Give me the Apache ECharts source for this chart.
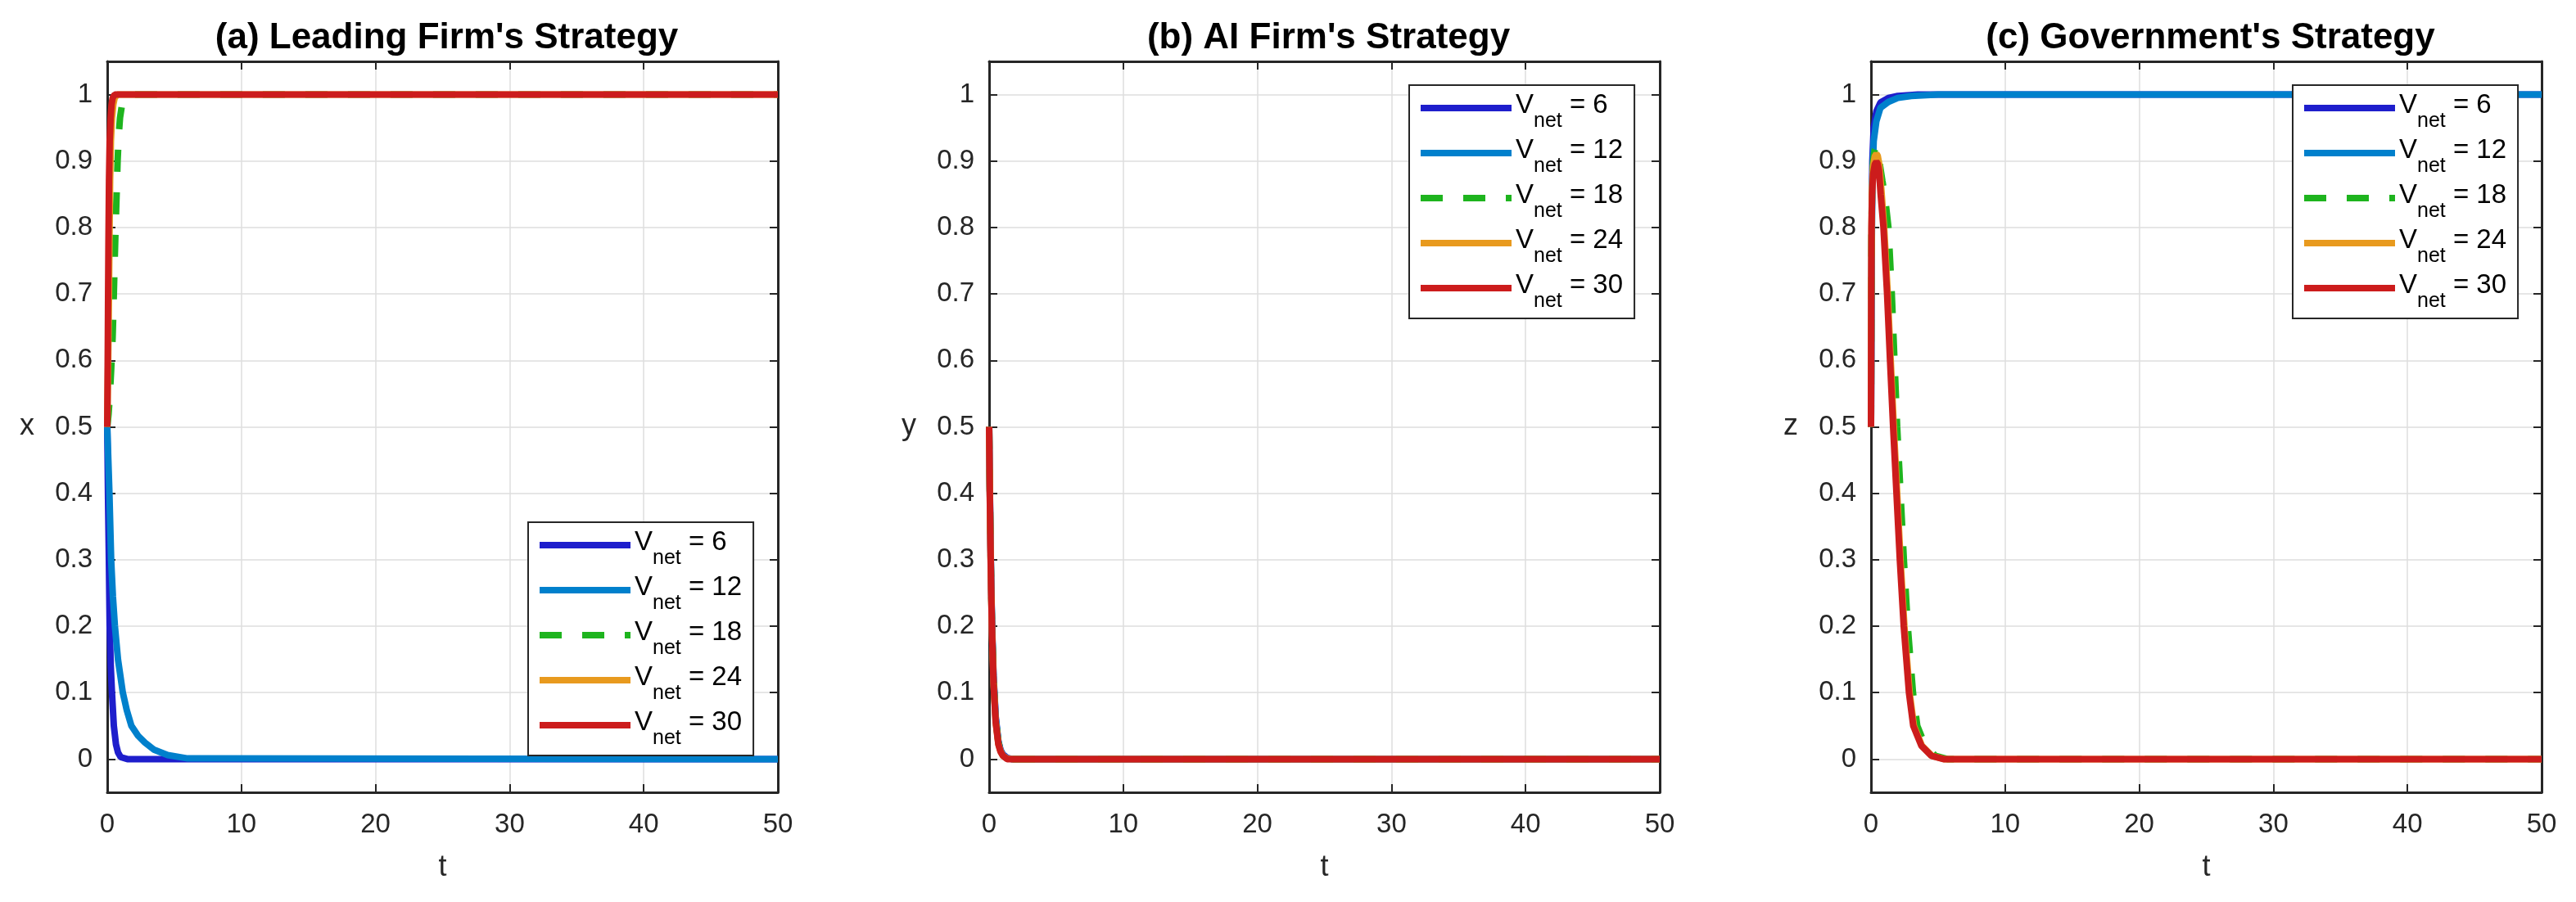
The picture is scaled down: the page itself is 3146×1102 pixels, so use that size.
<!DOCTYPE html>
<html>
<head>
<meta charset="utf-8">
<title>Strategy evolution</title>
<script src="https://cdn.jsdelivr.net/npm/echarts@6/dist/echarts.min.js"></script>
<style>
  html, body { margin: 0; padding: 0; background: #fff; }
  #chart { width: 3146px; height: 1102px; }
</style>
</head>
<body>
<div id="chart"></div>
<script>
// legend values of V_net
const vnetValues = ["6", "12", "18", "24", "30"];
const panelTitles = ["(a) Leading Firm's Strategy", "(b) AI Firm's Strategy", "(c) Government's Strategy"];
const yNames = ["x", "y", "z"];
const xTicks = [0, 10, 20, 30, 40, 50];
const yTicks = [0, 0.1, 0.2, 0.3, 0.4, 0.5, 0.6, 0.7, 0.8, 0.9, 1];

// (a) leading firm, x(t)
const tA6 = [0, 0.06, 0.12, 0.18, 0.26, 0.35, 0.49, 0.65, 0.8, 1.0, 1.5, 50];
const a6 = [0.5, 0.39, 0.3, 0.2, 0.14, 0.1, 0.05, 0.022, 0.01, 0.003, 0, 0];
const tA12 = [0, 0.08, 0.16, 0.29, 0.42, 0.57, 0.8, 1.16, 1.45, 1.8, 2.3, 2.8, 3.5, 4.5, 6, 50];
const a12 = [0.5, 0.45, 0.4, 0.3, 0.245, 0.2, 0.15, 0.1, 0.074, 0.05, 0.035, 0.025, 0.014, 0.006, 0.001, 0];
const tA18 = [0, 0.1, 0.2, 0.3, 0.4, 0.47, 0.54, 0.6, 0.69, 0.77, 0.86, 0.95, 1.1, 1.4, 2, 50];
const a18 = [0.5, 0.52, 0.55, 0.59, 0.635, 0.685, 0.74, 0.785, 0.845, 0.9, 0.94, 0.965, 0.985, 0.996, 1, 1];
const tA24 = [0, 0.04, 0.08, 0.12, 0.16, 0.21, 0.27, 0.35, 0.45, 0.55, 0.75, 50];
const a24 = [0.5, 0.56, 0.62, 0.69, 0.78, 0.87, 0.93, 0.965, 0.985, 0.995, 1, 1];
const tA30 = [0, 0.02, 0.04, 0.06, 0.09, 0.13, 0.18, 0.25, 0.32, 0.4, 0.55, 50];
const a30 = [0.5, 0.56, 0.62, 0.69, 0.78, 0.87, 0.93, 0.965, 0.985, 0.995, 1, 1];

// (b) AI firm, y(t)
const tB = [0, 0.05, 0.1, 0.15, 0.22, 0.33, 0.49, 0.69, 0.85, 1.03, 1.34, 1.7, 50];
const b6 = [0.5, 0.41, 0.335, 0.27, 0.2, 0.125, 0.064, 0.027, 0.014, 0.007, 0.002, 0, 0];
const b12 = [0.5, 0.41, 0.33, 0.265, 0.196, 0.121, 0.061, 0.026, 0.013, 0.006, 0.001, 0, 0];
const b18 = [0.5, 0.405, 0.327, 0.262, 0.193, 0.118, 0.059, 0.025, 0.013, 0.006, 0.001, 0, 0];
const b24 = [0.5, 0.402, 0.323, 0.258, 0.19, 0.116, 0.057, 0.023, 0.012, 0.005, 0.001, 0, 0];
const b30 = [0.5, 0.4, 0.32, 0.255, 0.186, 0.113, 0.055, 0.022, 0.011, 0.005, 0, 0, 0];

// (c) government, z(t)
const tC6 = [0, 0.03, 0.06, 0.1, 0.2, 0.4, 0.7, 1.3, 2, 3.5, 50];
const c6 = [0.5, 0.68, 0.82, 0.9, 0.95, 0.975, 0.988, 0.995, 0.998, 1, 1];
const tC12 = [0, 0.03, 0.06, 0.1, 0.2, 0.4, 0.7, 1.3, 2, 3, 5, 50];
const c12 = [0.5, 0.65, 0.78, 0.87, 0.93, 0.96, 0.98, 0.989, 0.995, 0.998, 1, 1];
const tC18 = [0, 0.01, 0.02, 0.04, 0.08, 0.16, 0.28, 0.38, 0.5, 0.62, 0.85, 1.05, 1.3, 1.55, 1.75, 1.95, 2.2, 2.45, 2.74, 3.13, 3.45, 4.05, 4.8, 5.7, 50];
const c18 = [0.5, 0.6, 0.7, 0.8, 0.86, 0.9, 0.917, 0.921, 0.918, 0.9, 0.87, 0.845, 0.8, 0.7, 0.6, 0.5, 0.4, 0.3, 0.2, 0.1, 0.05, 0.02, 0.005, 0, 0];
const tC24 = [0, 0.01, 0.02, 0.04, 0.08, 0.16, 0.28, 0.4, 0.5, 0.62, 0.76, 0.98, 1.25, 1.47, 1.7, 1.95, 2.2, 2.49, 2.88, 3.2, 3.8, 4.55, 5.45, 50];
const c24 = [0.5, 0.6, 0.7, 0.8, 0.86, 0.893, 0.907, 0.911, 0.908, 0.895, 0.86, 0.8, 0.7, 0.6, 0.5, 0.4, 0.3, 0.2, 0.1, 0.05, 0.02, 0.005, 0, 0];
const tC30 = [0, 0.01, 0.02, 0.04, 0.08, 0.16, 0.28, 0.4, 0.5, 0.6, 0.72, 0.93, 1.2, 1.42, 1.65, 1.9, 2.15, 2.44, 2.83, 3.15, 3.76, 4.5, 5.4, 50];
const c30 = [0.5, 0.6, 0.7, 0.8, 0.85, 0.88, 0.895, 0.899, 0.896, 0.885, 0.85, 0.8, 0.7, 0.6, 0.5, 0.4, 0.3, 0.2, 0.1, 0.05, 0.02, 0.005, 0, 0];

const panels = [
  [[tA6, a6], [tA12, a12], [tA18, a18], [tA24, a24], [tA30, a30]],
  [[tB, b6], [tB, b12], [tB, b18], [tB, b24], [tB, b30]],
  [[tC6, c6], [tC12, c12], [tC18, c18], [tC24, c24], [tC30, c30]]
];

const colors = ["#1e1ecc", "#0080cc", "#1eb41e", "#e89a1e", "#cc1c1c"];
const font = "Liberation Sans, Arial, Helvetica, sans-serif";
const axisColor = "#262626";
const gridLeft = [131, 1208, 2285];
const gridW = 819, gridTop = 75, gridH = 893;
const legendPos = [{ left: 645, top: 638 }, { left: 1721, top: 104 }, { left: 2800, top: 104 }];

const chart = echarts.init(document.getElementById("chart"));

const grid = [], xAxis = [], yAxis = [], series = [], title = [], legend = [];
panels.forEach((curves, p) => {
  grid.push({ left: gridLeft[p], top: gridTop, width: gridW, height: gridH, containLabel: false });
  title.push({
    text: panelTitles[p],
    left: gridLeft[p] + gridW / 2,
    top: 20,
    textAlign: "center",
    textStyle: { fontFamily: font, fontSize: 44, fontWeight: "bold", color: "#000" }
  });
  const tickStyle = { show: true, inside: true, length: 10, lineStyle: { color: axisColor, width: 2 } };
  const lineStyle = { show: true, onZero: false, lineStyle: { color: axisColor, width: 3 } };
  // bottom x axis
  xAxis.push({
    gridIndex: p, type: "value", min: 0, max: 50, interval: 10, position: "bottom",
    name: "t", nameLocation: "middle", nameGap: 74,
    nameTextStyle: { fontFamily: font, fontSize: 36, color: axisColor },
    axisLine: lineStyle, axisTick: tickStyle,
    axisLabel: { margin: 23, fontFamily: font, fontSize: 33, color: axisColor },
    splitLine: { show: true, lineStyle: { color: "#dedede", width: 1.5 } }
  });
  // top x axis (box)
  xAxis.push({
    gridIndex: p, type: "value", min: 0, max: 50, interval: 10, position: "top",
    axisLine: lineStyle, axisTick: tickStyle, axisLabel: { show: false }, splitLine: { show: false }
  });
  yAxis.push({
    gridIndex: p, type: "value", min: -0.05, max: 1.05, position: "left",
    name: yNames[p], nameLocation: "middle", nameGap: 89, nameRotate: 0,
    nameTextStyle: { fontFamily: font, fontSize: 36, color: axisColor },
    axisLine: lineStyle,
    axisTick: Object.assign({ customValues: yTicks }, tickStyle),
    axisLabel: { customValues: yTicks, margin: 18, fontFamily: font, fontSize: 33, color: axisColor },
    splitLine: { show: true, lineStyle: { color: "#dedede", width: 1.5 } }
  });
  yAxis.push({
    gridIndex: p, type: "value", min: -0.05, max: 1.05, position: "right",
    axisLine: lineStyle,
    axisTick: Object.assign({ customValues: yTicks }, tickStyle),
    axisLabel: { show: false }, splitLine: { show: false }
  });
  curves.forEach(([ts, vs], k) => {
    series.push({
      type: "line",
      name: vnetValues[k],
      xAxisIndex: p * 2,
      yAxisIndex: p * 2,
      data: ts.map((t, i) => [t, vs[i]]),
      symbol: "none",
      showSymbol: false,
      clip: false,
      silent: true,
      lineStyle: { color: colors[k], width: 8, type: k === 2 ? [27, 25] : "solid" },
      itemStyle: { color: colors[k] }
    });
  });
  legend.push({
    data: vnetValues,
    orient: "vertical",
    left: legendPos[p].left,
    top: legendPos[p].top,
    itemWidth: 111,
    itemHeight: 8,
    itemGap: 6,
    padding: [8, 14, 8, 10],
    borderColor: axisColor,
    borderWidth: 2,
    backgroundColor: "#fff",
    selectedMode: false,
    itemStyle: { borderWidth: 0, opacity: 0 },
    lineStyle: { width: 8 },
    formatter: name => "{v|V}{s|net}{v| = " + name + "}",
    textStyle: {
      fontFamily: font, color: "#000",
      rich: {
        v: { fontFamily: font, fontSize: 33, lineHeight: 40, verticalAlign: "top", color: "#000" },
        s: { fontFamily: font, fontSize: 25, lineHeight: 28, padding: [24, 0, 0, 0], verticalAlign: "top", color: "#000" }
      }
    }
  });
});

chart.setOption({
  backgroundColor: "#fff",
  animation: false,
  title, grid, xAxis, yAxis, legend, series
});
</script>
</body>
</html>
